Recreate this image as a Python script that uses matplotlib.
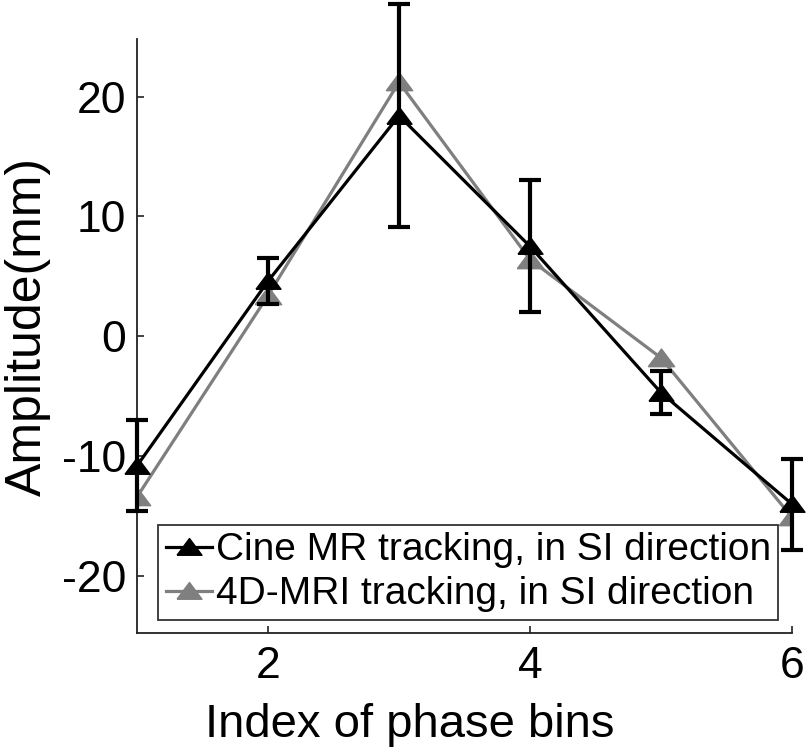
import numpy as np
import matplotlib
matplotlib.use("Agg")
import matplotlib.pyplot as plt
from matplotlib.lines import Line2D

# phase bin index
phase_bins = [1, 2, 3, 4, 5, 6]

# Cine MR tracking (mean, std) in SI direction, mm
cine_mean = [-10.8, 4.6, 18.4, 7.5, -4.7, -14.0]
cine_err = [3.8, 1.9, 9.3, 5.5, 1.8, 3.8]

# 4D-MRI tracking in SI direction, mm
mri4d_mean = [-13.4, 3.4, 21.2, 6.4, -1.8, -15.1]

series_labels = ['Cine MR tracking, in SI direction', '4D-MRI tracking, in SI direction']
x_ticks = [2, 4, 6]
y_ticks = [-20, -10, 0, 10, 20]

plt.rcParams['font.family'] = ['Liberation Sans', 'DejaVu Sans']
plt.rcParams['axes.unicode_minus'] = False

# wide MATLAB-like triangle
tri = [(-1.0, -0.62), (1.0, -0.62), (0.0, 0.72), (-1.0, -0.62)]

fig = plt.figure(figsize=(8.08, 7.48), dpi=100)
ax = fig.add_axes([137/808, 1 - 633/748, (792 - 137)/808, (633 - 39)/748])

gray = '#7f7f7f'
ax.plot(phase_bins, mri4d_mean, color=gray, lw=2.3, marker=tri, ms=19,
        mfc=gray, mec=gray, zorder=2)
ax.errorbar(phase_bins, cine_mean, yerr=cine_err, color='black', lw=2.3,
            elinewidth=3.0, capsize=8, capthick=3.0, marker=tri, ms=18,
            mfc='black', mec='black', clip_on=False, zorder=3)

ax.set_xlim(1, 6)
ax.set_ylim(-24.75, 24.8)
ax.set_xticks(x_ticks)
ax.set_yticks(y_ticks)
ax.tick_params(direction='in', length=5, width=1.2, labelsize=32, color='#222222')
ax.tick_params(axis='x', pad=9)
ax.tick_params(axis='y', pad=8)
ax.spines['top'].set_visible(False)
ax.spines['right'].set_visible(False)
for s in ['left', 'bottom']:
    ax.spines[s].set_linewidth(1.3)
    ax.spines[s].set_color('#222222')

handles = [
    Line2D([], [], color='black', lw=2.3, marker=tri, ms=18, mfc='black', mec='black'),
    Line2D([], [], color=gray, lw=2.3, marker=tri, ms=18, mfc=gray, mec=gray),
]
leg = ax.legend(handles, series_labels, loc='lower left',
                bbox_to_anchor=((158 - 137)/655, (633 - 620)/594),
                fontsize=28, frameon=True, fancybox=False, edgecolor='black',
                borderpad=0.2, labelspacing=0.2, handlelength=1.2,
                handletextpad=0.08, borderaxespad=0)
leg.get_frame().set_linewidth(1.3)

fig.text(28/808, 1 - 326/748, 'Amplitude(mm)', rotation=90, ha='center',
         va='center', fontsize=36)
fig.text(410/808, 1 - 737/748, 'Index of phase bins', ha='center',
         va='baseline', fontsize=34)

fig.savefig('out.png', dpi=100)
